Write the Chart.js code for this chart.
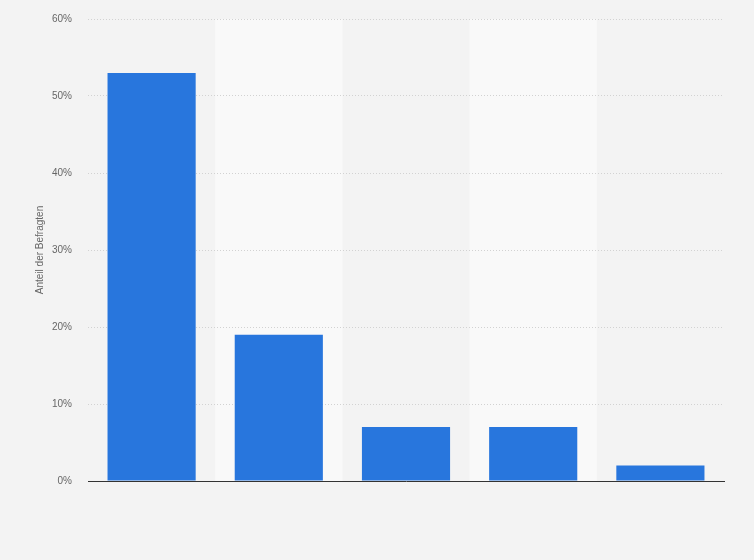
<!DOCTYPE html>
<html>
<head>
<meta charset="utf-8">
<script src="https://cdn.jsdelivr.net/npm/chart.js@4"></script>
<style>
  html, body { margin: 0; padding: 0; background: #f3f3f3; }
  #wrap { width: 754px; height: 560px; }
</style>
</head>
<body>
<div id="wrap"><canvas id="myChart"></canvas></div>
<script>
  const categories = ['Antwort 1', 'Antwort 2', 'Antwort 3', 'Antwort 4', 'Antwort 5'];
  const shares = [53, 19, 7, 7, 2];
  const yTicks = [0, 10, 20, 30, 40, 50, 60];

  // lighter background bands behind every second category
  const bandPlugin = {
    id: 'bands',
    beforeDraw(chart) {
      const { ctx, chartArea, scales } = chart;
      const x = scales.x;
      const half = (x.getPixelForValue(1) - x.getPixelForValue(0)) / 2;
      ctx.save();
      ctx.fillStyle = '#f9f9f9';
      categories.forEach((c, i) => {
        if (i % 2 === 1) {
          const cx = x.getPixelForValue(i);
          ctx.fillRect(cx - half, chartArea.top, half * 2, chartArea.bottom - chartArea.top);
        }
      });
      ctx.restore();
    }
  };

  new Chart(document.getElementById('myChart').getContext('2d'), {
    type: 'bar',
    data: {
      labels: categories,
      datasets: [{
        label: 'Anteil der Befragten',
        data: shares,
        backgroundColor: '#2876dd',
        borderWidth: 0,
        barPercentage: 0.7,
        categoryPercentage: 0.99
      }]
    },
    options: {
      responsive: true,
      maintainAspectRatio: false,
      animation: false,
      layout: { padding: { top: 19, right: 30, bottom: 79, left: 0 } },
      plugins: { legend: { display: false }, tooltip: { enabled: false } },
      scales: {
        x: {
          ticks: { display: false },
          grid: { display: false, drawTicks: false },
          border: { display: true, color: '#333333', width: 1 }
        },
        y: {
          min: 0,
          max: 60,
          afterBuildTicks(scale) { scale.ticks = yTicks.map(v => ({ value: v })); },
          afterFit(scale) {
            scale.width = 88;
            scale.paddingTop = 0;
            scale.paddingBottom = 0;
          },
          ticks: {
            padding: 16,
            color: '#666666',
            font: { family: 'Liberation Sans, Arial', size: 10 },
            callback: v => v + '%'
          },
          grid: {
            drawTicks: false,
            color: ctx => ctx.tick && ctx.tick.value === 0 ? 'rgba(0,0,0,0)' : '#d2d2d2'
          },
          border: { display: false, dash: [1, 2] },
          title: {
            display: true,
            text: 'Anteil der Befragten',
            color: '#666666',
            font: { family: 'Liberation Sans, Arial', size: 10 },
            padding: { top: 34, bottom: 0 }
          }
        }
      }
    },
    plugins: [bandPlugin]
  });
</script>
</body>
</html>
